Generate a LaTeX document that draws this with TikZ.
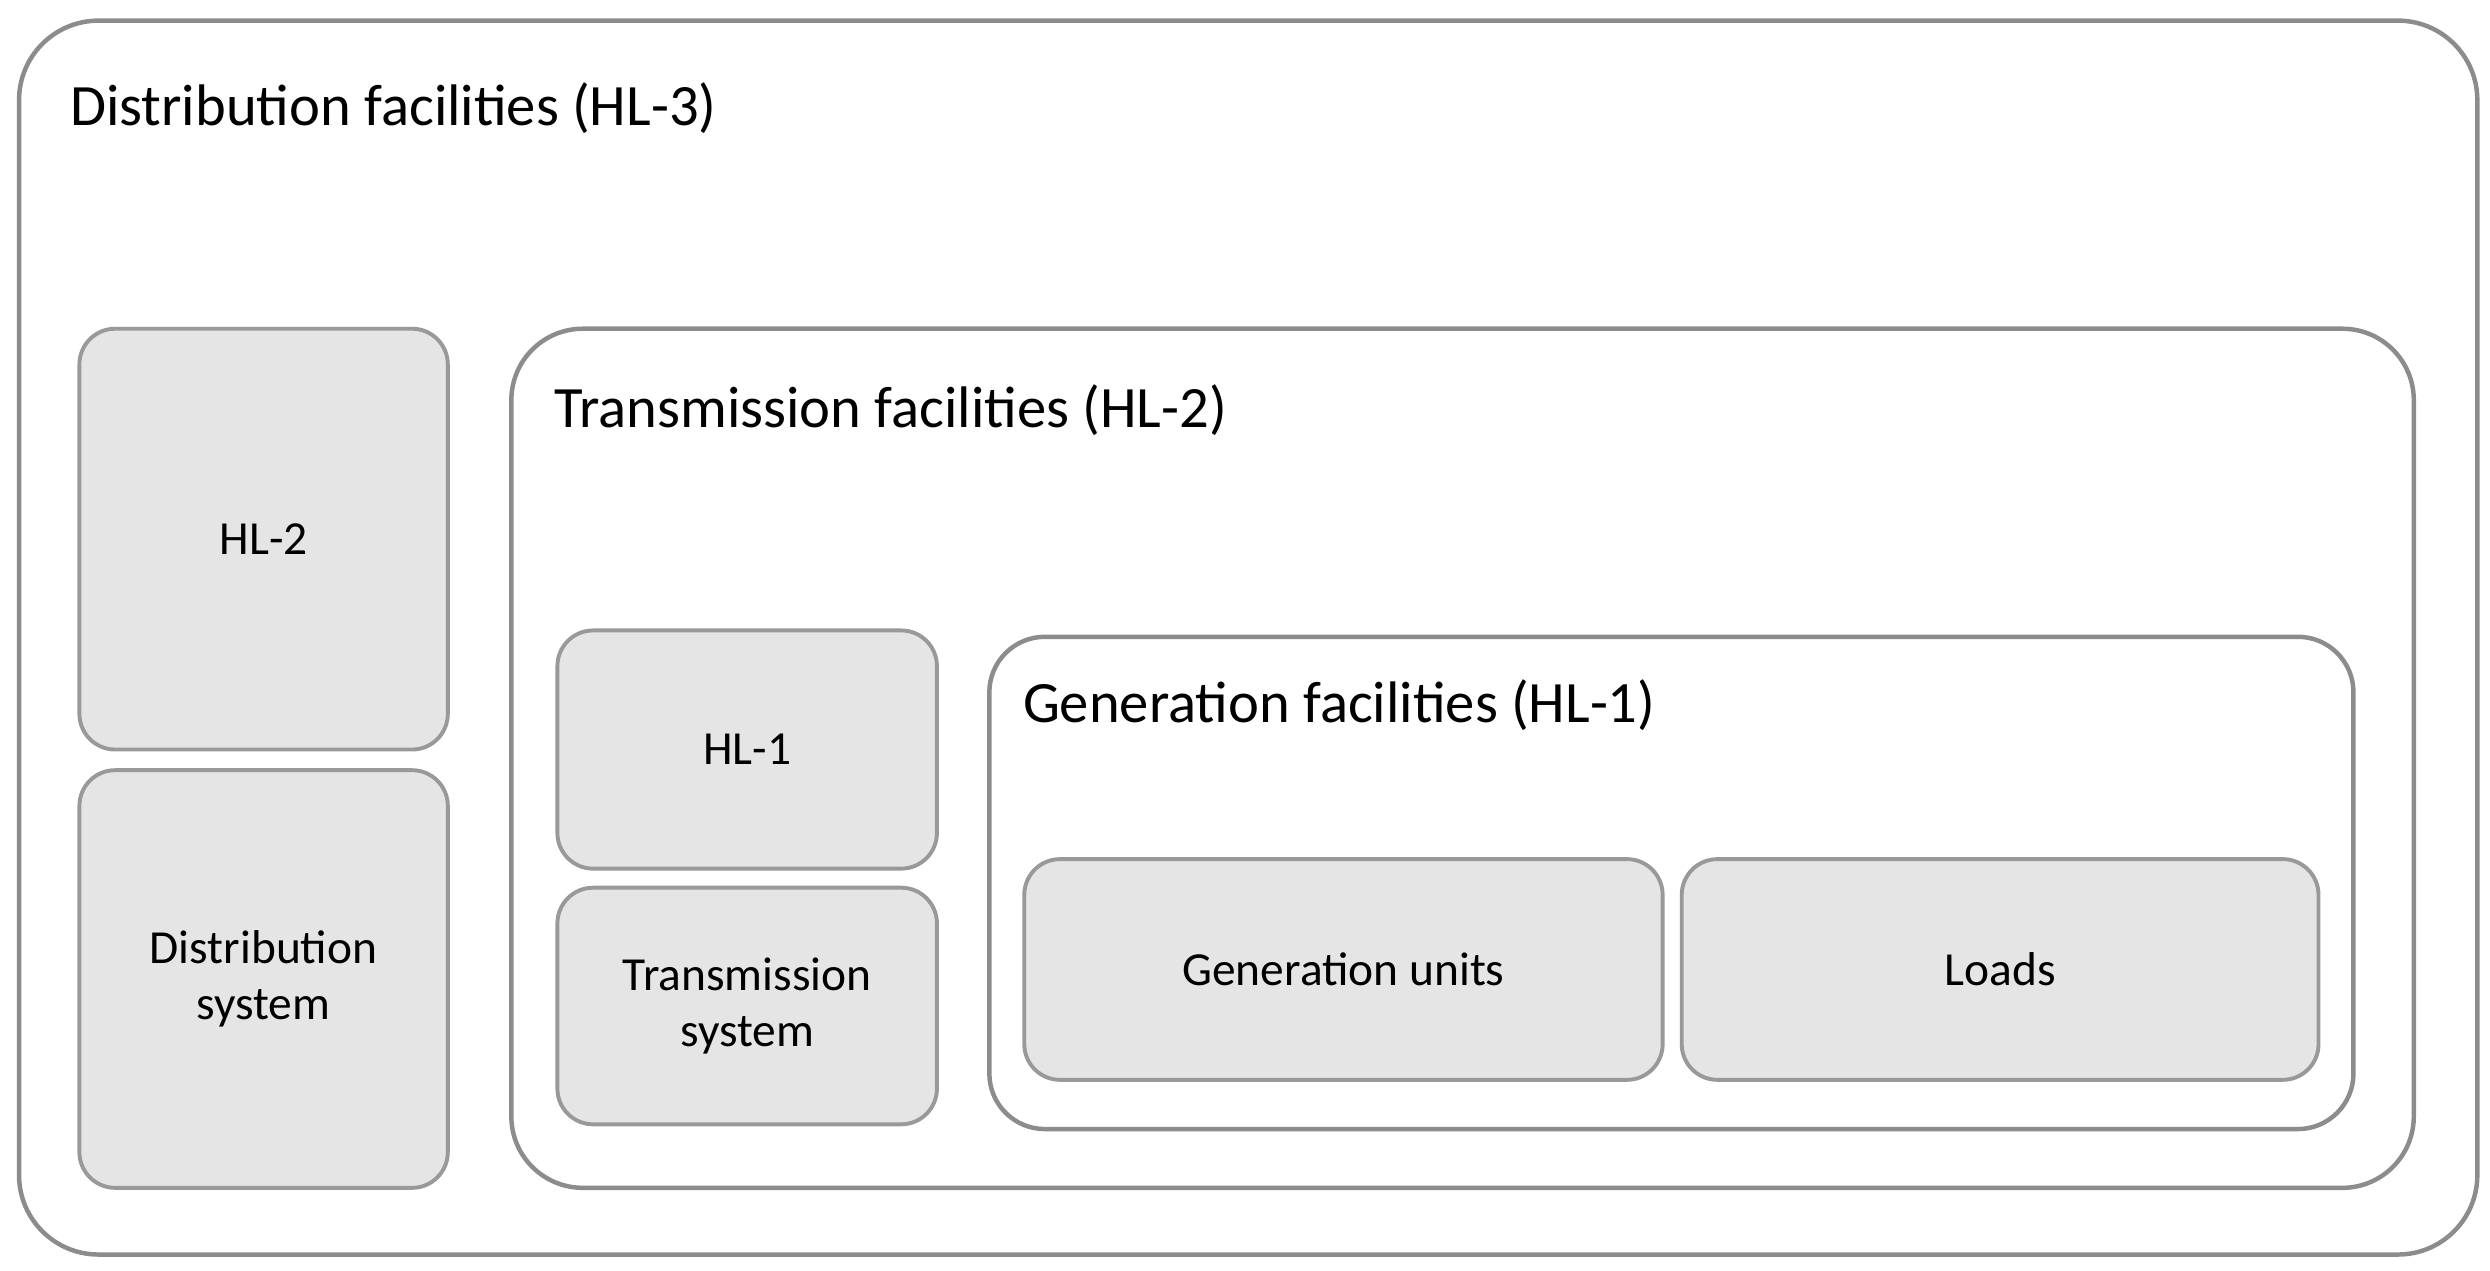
\documentclass[tikz,border=0pt]{standalone}
\usepackage{fontspec}
\setmainfont{Carlito}
\begin{document}
\begin{tikzpicture}[x=0.02cm,y=-0.02cm,
  cont/.style={draw=black!45,line width=1.6pt,fill=white},
  gbox/.style={draw=black!40,line width=1.4pt,fill=black!10,rounded corners=0.45cm},
  lbl/.style={font=\fontsize{17}{20}\selectfont,align=center},
  ttl/.style={font=\fontsize{21}{24}\selectfont,anchor=west}]
\useasboundingbox[fill=white] (0,0) rectangle (1568,800);
\draw[cont,rounded corners=1cm] (12,13) rectangle (1560,790);
\node[ttl] (t3) at (38,68) {Distribution facilities (HL-3)};
\draw[gbox] (50,207) rectangle node[lbl] (hl2) {HL-2} (282,472);
\draw[gbox] (50,485) rectangle node[lbl] (ds) {Distribution\\system} (282,748);
\draw[cont,rounded corners=0.9cm] (322,207) rectangle (1520,748);
\node[ttl] (t2) at (343,258) {Transmission facilities (HL-2)};
\draw[gbox] (351,397) rectangle node[lbl] (hl1) {HL-1} (590,547);
\draw[gbox] (351,559) rectangle node[lbl] (ts) {Transmission\\system} (590,708);
\draw[cont,rounded corners=0.7cm] (623,401) rectangle (1482,711);
\node[ttl] (t1) at (638,444) {Generation facilities (HL-1)};
\draw[gbox] (645,541) rectangle node[lbl] (gu) {Generation units} (1047,680);
\draw[gbox] (1059,541) rectangle node[lbl] (ld) {Loads} (1460,680);
\end{tikzpicture}
\end{document}
